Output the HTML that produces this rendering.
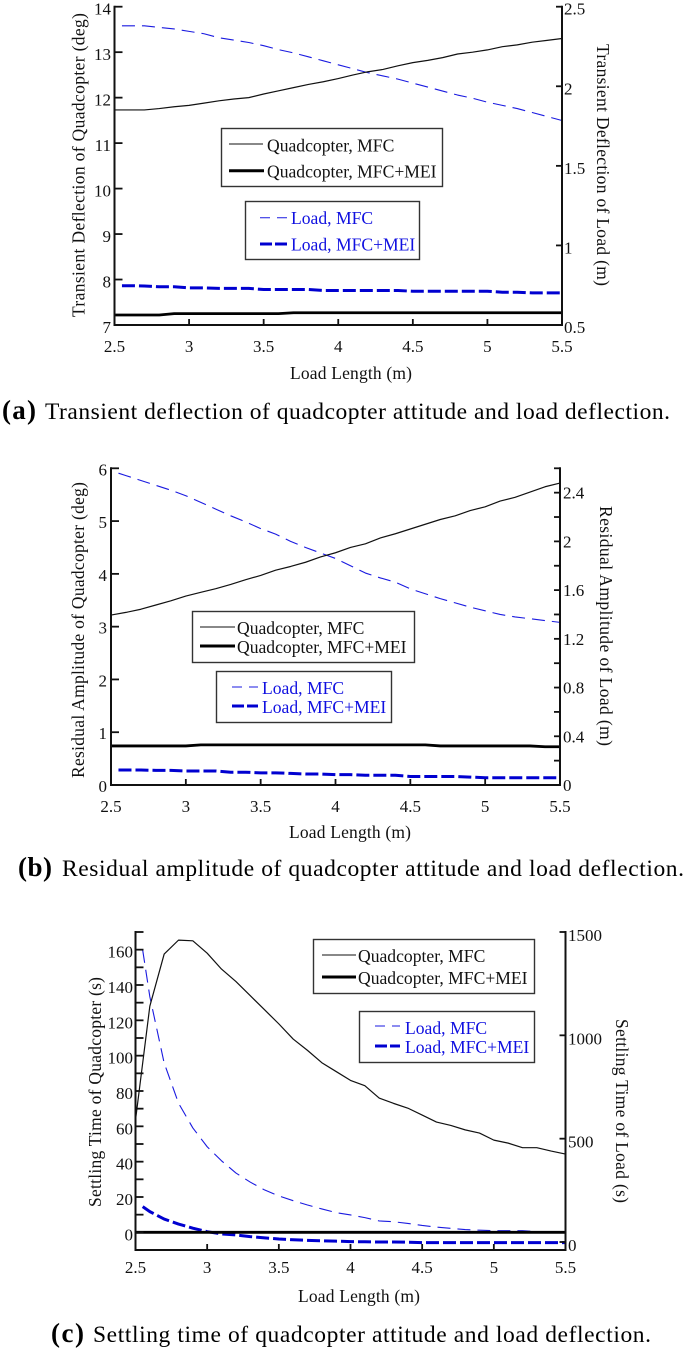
<!DOCTYPE html>
<html><head><meta charset="utf-8"><title>Load length charts</title>
<style>
html,body{margin:0;padding:0;background:#fff}
svg{display:block}
text{font-family:"Liberation Serif",serif;fill:#111}
.tick{font-size:17px}
.title{font-size:17.5px}
.leg{font-size:17.6px}
.legb{font-size:17.6px;fill:#1010e0}
.cap{font-size:23.5px;fill:#000}
.capb{font-size:27px;font-weight:bold;fill:#000}
.box{fill:#fff;stroke:#333;stroke-width:1.4}
</style></head>
<body>
<svg id="figure" width="685" height="1351" viewBox="0 0 685 1351" xmlns="http://www.w3.org/2000/svg">
<rect width="685" height="1351" fill="#fff"/>
<g id="chart-a"></g>
<g id="chart-b"></g>
<g id="chart-c"></g>

<!-- titles a -->
<text class="title" transform="translate(84.5,165) rotate(-90)" text-anchor="middle" textLength="304" lengthAdjust="spacing">Transient Deflection of Quadcopter (deg)</text>
<text class="title" transform="translate(597,165) rotate(90)" text-anchor="middle" textLength="242" lengthAdjust="spacing">Transient Deflection of Load (m)</text>
<text class="title" x="351" y="379" text-anchor="middle" textLength="122" lengthAdjust="spacing">Load Length (m)</text>
<!-- legend a -->
<g>
<rect class="box" x="221.5" y="128.5" width="221" height="58"/>
<line x1="229" x2="263" y1="144" y2="144" stroke="#111" stroke-width="1"/>
<text class="leg" x="267" y="151.5">Quadcopter, MFC</text>
<line x1="229" x2="264" y1="170.7" y2="170.7" stroke="#000" stroke-width="3"/>
<text class="leg" x="267" y="177.5">Quadcopter, MFC+MEI</text>
</g>
<g>
<rect class="box" x="245.5" y="201.5" width="174" height="58"/>
<line x1="260" x2="287" y1="217.7" y2="217.7" stroke="#1a1ae0" stroke-width="1" stroke-dasharray="10 7"/>
<text class="legb" x="291" y="224">Load, MFC</text>
<line x1="260" x2="287" y1="244" y2="244" stroke="#0000d0" stroke-width="3" stroke-dasharray="12 3"/>
<text class="legb" x="291" y="250.7">Load, MFC+MEI</text>
</g>
<text class="capb" x="2" y="419" textLength="34" lengthAdjust="spacing">(a)</text>
<text class="cap" x="45" y="419" textLength="625" lengthAdjust="spacing">Transient deflection of quadcopter attitude and load deflection.</text>

<!-- titles b -->
<text class="title" transform="translate(84,630) rotate(-90)" text-anchor="middle" textLength="296" lengthAdjust="spacing">Residual Amplitude of Quadcopter (deg)</text>
<text class="title" transform="translate(600,626) rotate(90)" text-anchor="middle" textLength="240" lengthAdjust="spacing">Residual Amplitude of Load (m)</text>
<text class="title" x="350" y="838" text-anchor="middle" textLength="122" lengthAdjust="spacing">Load Length (m)</text>
<g>
<rect class="box" x="192.5" y="611.5" width="222" height="51"/>
<line x1="200" x2="235" y1="627" y2="627" stroke="#111" stroke-width="1"/>
<text class="leg" x="237" y="634">Quadcopter, MFC</text>
<line x1="200" x2="235" y1="646" y2="646" stroke="#000" stroke-width="3"/>
<text class="leg" x="237" y="653">Quadcopter, MFC+MEI</text>
</g>
<g>
<rect class="box" x="216.5" y="671.5" width="175" height="51"/>
<line x1="232" x2="258" y1="687" y2="687" stroke="#1a1ae0" stroke-width="1" stroke-dasharray="10 7"/>
<text class="legb" x="262" y="694">Load, MFC</text>
<line x1="232" x2="258" y1="706" y2="706" stroke="#0000d0" stroke-width="3" stroke-dasharray="12 3"/>
<text class="legb" x="262" y="713">Load, MFC+MEI</text>
</g>
<text class="capb" x="18" y="876" textLength="34" lengthAdjust="spacing">(b)</text>
<text class="cap" x="62" y="876" textLength="622" lengthAdjust="spacing">Residual amplitude of quadcopter attitude and load deflection.</text>

<!-- titles c -->
<text class="title" transform="translate(101,1092) rotate(-90)" text-anchor="middle" textLength="230" lengthAdjust="spacing">Settling Time of Quadcopter (s)</text>
<text class="title" transform="translate(616,1111) rotate(90)" text-anchor="middle" textLength="184" lengthAdjust="spacing">Settling Time of Load (s)</text>
<text class="title" x="359" y="1302" text-anchor="middle" textLength="122" lengthAdjust="spacing">Load Length (m)</text>
<g>
<rect class="box" x="313.5" y="939.5" width="221" height="54"/>
<line x1="322" x2="356" y1="955" y2="955" stroke="#111" stroke-width="1"/>
<text class="leg" x="358" y="962">Quadcopter, MFC</text>
<line x1="322" x2="356" y1="977" y2="977" stroke="#000" stroke-width="3"/>
<text class="leg" x="358" y="984">Quadcopter, MFC+MEI</text>
</g>
<g>
<rect class="box" x="359.5" y="1011.5" width="175" height="51"/>
<line x1="375" x2="400" y1="1026" y2="1026" stroke="#1a1ae0" stroke-width="1" stroke-dasharray="10 7"/>
<text class="legb" x="405" y="1034">Load, MFC</text>
<line x1="375" x2="400" y1="1046" y2="1046" stroke="#0000d0" stroke-width="3" stroke-dasharray="12 3"/>
<text class="legb" x="405" y="1053">Load, MFC+MEI</text>
</g>
<text class="capb" x="51" y="1342" textLength="33" lengthAdjust="spacing">(c)</text>
<text class="cap" x="93" y="1342" textLength="558" lengthAdjust="spacing">Settling time of quadcopter attitude and load deflection.</text>
</svg>
<script>
// ---- shared categories ----
const quadLengths = [2.5,2.6,2.7,2.8,2.9,3.0,3.1,3.2,3.3,3.4,3.5,3.6,3.7,3.8,3.9,4.0,4.1,4.2,4.3,4.4,4.5,4.6,4.7,4.8,4.9,5.0,5.1,5.2,5.3,5.4,5.5];
const loadLengths = [2.55,2.6,2.7,2.8,2.9,3.0,3.1,3.2,3.3,3.4,3.5,3.6,3.7,3.8,3.9,4.0,4.1,4.2,4.3,4.4,4.5,4.6,4.7,4.8,4.9,5.0,5.1,5.2,5.3,5.4,5.5];
const xTicks = [2.5,3,3.5,4,4.5,5,5.5];

// ---- chart (a) ----
const aQuadMfc = [11.73,11.73,11.73,11.76,11.8,11.83,11.88,11.93,11.97,12.0,12.08,12.15,12.22,12.29,12.35,12.42,12.5,12.57,12.62,12.7,12.77,12.82,12.88,12.96,13.0,13.05,13.12,13.16,13.22,13.26,13.3];
const aQuadMei = [7.22,7.22,7.22,7.22,7.25,7.25,7.25,7.25,7.25,7.25,7.25,7.25,7.27,7.27,7.27,7.27,7.27,7.27,7.27,7.27,7.27,7.27,7.27,7.27,7.27,7.27,7.27,7.27,7.27,7.27,7.27];
const aLoadMfc = [2.38,2.38,2.38,2.37,2.36,2.345,2.33,2.305,2.29,2.275,2.255,2.23,2.21,2.185,2.16,2.135,2.11,2.085,2.065,2.045,2.02,1.995,1.97,1.945,1.925,1.9,1.88,1.86,1.835,1.81,1.785];
const aLoadMei = [0.747,0.747,0.745,0.74,0.74,0.733,0.733,0.73,0.73,0.73,0.723,0.723,0.723,0.723,0.717,0.717,0.717,0.717,0.717,0.717,0.712,0.712,0.712,0.712,0.712,0.712,0.706,0.706,0.702,0.702,0.702];
const aLeftTicks = [7,8,9,10,11,12,13,14];
const aRightTicks = [0.5,1,1.5,2,2.5];

// ---- chart (b) ----
const bQuadMfc = [3.22,3.27,3.33,3.41,3.49,3.58,3.65,3.72,3.8,3.89,3.97,4.07,4.14,4.22,4.32,4.4,4.5,4.57,4.68,4.76,4.85,4.94,5.03,5.1,5.2,5.27,5.38,5.45,5.55,5.65,5.72];
const bQuadMei = [0.74,0.74,0.74,0.74,0.74,0.74,0.76,0.76,0.76,0.76,0.76,0.76,0.76,0.76,0.76,0.76,0.76,0.76,0.76,0.76,0.76,0.76,0.74,0.74,0.74,0.74,0.74,0.74,0.74,0.725,0.725];
const bLoadMfc = [2.56,2.54,2.5,2.46,2.42,2.375,2.32,2.265,2.21,2.16,2.105,2.06,2.0,1.95,1.905,1.86,1.8,1.74,1.7,1.665,1.61,1.57,1.53,1.495,1.46,1.43,1.4,1.38,1.365,1.35,1.335];
const bLoadMei = [0.123,0.123,0.123,0.12,0.12,0.115,0.115,0.115,0.105,0.105,0.1,0.1,0.095,0.09,0.09,0.085,0.085,0.08,0.08,0.08,0.07,0.07,0.07,0.07,0.065,0.06,0.06,0.06,0.06,0.06,0.06];
const bLeftTicks = [0,1,2,3,4,5,6];
const bRightTicks = [0,0.2,0.4,0.6,0.8,1,1.2,1.4,1.6,1.8,2,2.2,2.4,2.6];
const bRightLabels = [0,0.4,0.8,1.2,1.6,2,2.4];

// ---- chart (c) ----
const cQuadMfc = [63.5,128,157.5,165.4,165,158,149,142,134,126,118,109.4,103,96,91,86,83,76,73,70.3,66.4,62.4,60.5,58,56.2,52.2,50.5,47.9,47.9,46,44.3];
const cQuadMei = [0,0,0,0,0,0,0,0,0,0,0,0,0,0,0,0,0,0,0,0,0,0,0,0,0,0,0,0,0,0,0];
const cLoadMfc = [1413,1187,866,672,552,461,393,334,290,252,223,200,179,160,142,131,118,102,98,90,80,72,66,60,57,55,55,55,50,46,44];
const cLoadMei = [171,147,111,87,67,50,39,34,26,20,14.5,11,8,6,4,2,1,0,0,-1,-3,-3,-3,-3,-3,-3,-3,-3,-3,-3,-3];
const cLeftTicks = [-10,0,10,20,30,40,50,60,70,80,90,100,110,120,130,140,150,160,170];
const cLeftLabels = [0,20,40,60,80,100,120,140,160];
const cRightTicks = [0,500,1000,1500];

const NS = 'http://www.w3.org/2000/svg';
function linear(d0, d1, r0, r1) { return v => r0 + (v - d0) * (r1 - r0) / (d1 - d0); }

function seriesPath(parent, xs, ys, sx, sy, name, color, width, dash) {
  const el = document.createElementNS(NS, 'path');
  
  
  el.setAttribute('d', xs.map((x, i) => (i ? 'L' : 'M') + sx(x).toFixed(2) + ' ' + sy(ys[i]).toFixed(2)).join(''));
  el.setAttribute('fill', 'none');
  el.setAttribute('stroke', color);
  el.setAttribute('stroke-width', width);
  el.setAttribute('stroke-linejoin', 'round');
  if (dash) el.setAttribute('stroke-dasharray', dash);
  parent.appendChild(el);
}
function seg(parent, x1, y1, x2, y2, name, w) {
  const el = document.createElementNS(NS, 'line');
  
  
  el.setAttribute('x1', x1); el.setAttribute('y1', y1);
  el.setAttribute('x2', x2); el.setAttribute('y2', y2);
  el.setAttribute('stroke', '#111');
  el.setAttribute('stroke-width', w);
  parent.appendChild(el);
}
function label(parent, x, y, str, anchor, name) {
  const el = document.createElementNS(NS, 'text');
  
  
  el.setAttribute('class', 'tick');
  el.setAttribute('x', x); el.setAttribute('y', y);
  el.setAttribute('text-anchor', anchor);
  el.textContent = str;
  parent.appendChild(el);
}

function drawFrame(g, box, sx, sl, sr, lt, ll, rt, rl, xBase, leftX, rightX, lOff, rOff) {
  seg(g, box.l, box.t - 1, box.l, box.b + 1, 'y-axis-left', 2);
  seg(g, box.r, box.t - 1, box.r, box.b + 1, 'y-axis-right', 2);
  seg(g, box.l, box.b, box.r, box.b, 'x-axis', 2);
  xTicks.forEach(v => {
    seg(g, sx(v), box.b, sx(v), box.b - 6, 'x-tick', 1.8);
    label(g, sx(v), xBase, String(v), 'middle', 'x-tick-label');
  });
  lt.forEach(v => seg(g, box.l, sl(v), box.l + 8, sl(v), 'y-left-tick', 1.8));
  ll.forEach(v => label(g, leftX, sl(v) + lOff, String(v), 'end', 'y-left-tick-label'));
  rt.forEach(v => seg(g, box.r, sr(v), box.r - 6, sr(v), 'y-right-tick', 1.8));
  rl.forEach(v => label(g, rightX, sr(v) + rOff, String(v), 'start', 'y-right-tick-label'));
}

// chart a
(function () {
  const g = document.getElementById('chart-a');
  const box = { l: 114.5, r: 562, t: 6.7, b: 325 };
  const sx = linear(2.5, 5.5, box.l, box.r);
  const sl = linear(7, 14, box.b, box.t);
  const sr = linear(0.5, 2.5, box.b, box.t);
  seriesPath(g, loadLengths, aLoadMfc, sx, sr, 'a-line-load-mfc', '#1a1ae0', 1.1, '13 7');
  seriesPath(g, loadLengths, aLoadMei, sx, sr, 'a-line-load-mfc-mei', '#0000d0', 3, '13 4');
  seriesPath(g, quadLengths, aQuadMfc, sx, sl, 'a-line-quadcopter-mfc', '#111', 1.2);
  seriesPath(g, quadLengths, aQuadMei, sx, sl, 'a-line-quadcopter-mfc-mei', '#000', 2.8);
  drawFrame(g, box, sx, sl, sr, aLeftTicks, aLeftTicks, aRightTicks, aRightTicks, 352, 111, 564, 8, 8);
})();

// chart b
(function () {
  const g = document.getElementById('chart-b');
  const box = { l: 111, r: 560, t: 468.3, b: 785 };
  const sx = linear(2.5, 5.5, box.l, box.r);
  const sl = linear(0, 6, box.b, box.t);
  const sr = linear(0, 2.6, box.b, box.t);
  seriesPath(g, loadLengths, bLoadMfc, sx, sr, 'b-line-load-mfc', '#1a1ae0', 1.1, '13 7');
  seriesPath(g, loadLengths, bLoadMei, sx, sr, 'b-line-load-mfc-mei', '#0000d0', 3, '13 4');
  seriesPath(g, quadLengths, bQuadMfc, sx, sl, 'b-line-quadcopter-mfc', '#111', 1.2);
  seriesPath(g, quadLengths, bQuadMei, sx, sl, 'b-line-quadcopter-mfc-mei', '#000', 2.8);
  drawFrame(g, box, sx, sl, sr, bLeftTicks, bLeftTicks, bRightTicks, bRightLabels, 812, 107, 563, 7, 6);
})();

// chart c
(function () {
  const g = document.getElementById('chart-c');
  const box = { l: 135.5, r: 565.5, t: 932, b: 1250 };
  const sx = linear(2.5, 5.5, box.l, box.r);
  const sl = linear(-10, 170, box.b, box.t);
  const sr = linear(0, 1500, 1242, box.t);
  seriesPath(g, loadLengths, cLoadMfc, sx, sr, 'c-line-load-mfc', '#1a1ae0', 1.1, '13 7');
  seriesPath(g, loadLengths, cLoadMei, sx, sr, 'c-line-load-mfc-mei', '#0000d0', 3, '13 4');
  seriesPath(g, quadLengths, cQuadMfc, sx, sl, 'c-line-quadcopter-mfc', '#111', 1.2);
  seriesPath(g, quadLengths, cQuadMei, sx, sl, 'c-line-quadcopter-mfc-mei', '#000', 2.8);
  drawFrame(g, box, sx, sl, sr, cLeftTicks, cLeftLabels, cRightTicks, cRightTicks, 1273, 133, 568, 8, 9);
})();
</script>
</body></html>
